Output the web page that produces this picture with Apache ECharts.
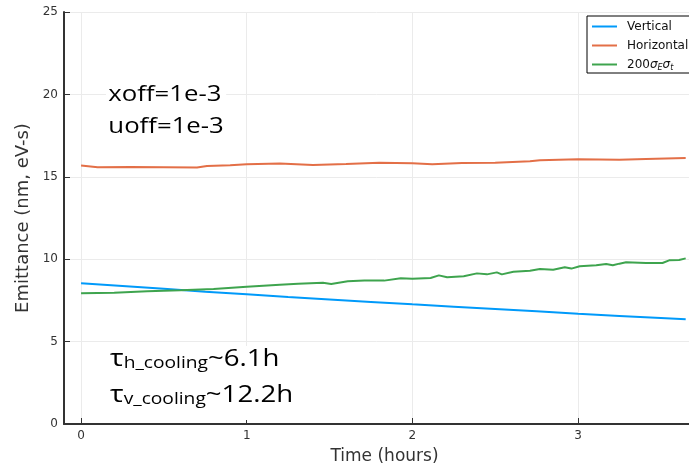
<!DOCTYPE html>
<html>
<head>
<meta charset="utf-8">
<script src="https://cdn.jsdelivr.net/npm/echarts@6/dist/echarts.min.js"></script>
<style>
  html, body { margin: 0; padding: 0; background: #fff; }
  #chart { width: 689px; height: 466px; }
</style>
</head>
<body>
<div id="chart"></div>
<script>
// Emittance evolution over time (hours)
const vertTime = [0, 0.25, 0.5, 0.75, 1.0, 1.25, 1.5, 1.75, 2.0, 2.25, 2.5, 2.75, 3.0, 3.25, 3.5, 3.65];
const vertValues = [8.54, 8.37, 8.20, 8.03, 7.87, 7.71, 7.56, 7.41, 7.26, 7.12, 6.98, 6.84, 6.69, 6.56, 6.43, 6.35];

const horzTime = [0, 0.1, 0.3, 0.5, 0.7, 0.76, 0.9, 1.0, 1.2, 1.4, 1.6, 1.8, 2.0, 2.12, 2.3, 2.5, 2.71, 2.77, 3.0, 3.25, 3.41, 3.65];
const horzValues = [15.68, 15.58, 15.60, 15.58, 15.56, 15.66, 15.70, 15.76, 15.80, 15.72, 15.78, 15.86, 15.82, 15.76, 15.84, 15.86, 15.94, 16.00, 16.06, 16.04, 16.08, 16.14];

const longTime = [0, 0.2, 0.4, 0.6, 0.8, 1.0, 1.2, 1.31, 1.46, 1.51, 1.61, 1.71, 1.83, 1.93, 2.0, 2.11, 2.16, 2.21, 2.31, 2.39, 2.45, 2.51, 2.54, 2.61, 2.71, 2.77, 2.85, 2.92, 2.96, 3.01, 3.11, 3.17, 3.21, 3.25, 3.29, 3.41, 3.51, 3.55, 3.61, 3.65];
const longValues = [7.93, 7.97, 8.05, 8.11, 8.19, 8.33, 8.45, 8.51, 8.57, 8.50, 8.66, 8.70, 8.70, 8.84, 8.82, 8.86, 9.02, 8.90, 8.96, 9.14, 9.08, 9.20, 9.08, 9.24, 9.30, 9.40, 9.36, 9.51, 9.43, 9.57, 9.63, 9.71, 9.63, 9.73, 9.81, 9.77, 9.77, 9.93, 9.95, 10.05];

const xTicks = [0, 1, 2, 3];
const yTicks = [0, 5, 10, 15, 20, 25];

const seriesNames = ['Vertical', 'Horizontal', '200σEσt'];
const seriesColors = ['#009AFA', '#E36F47', '#3EA44E'];

const pairs = (xs, ys) => xs.map((x, i) => [x, ys[i]]);

const chart = echarts.init(document.getElementById('chart'), null, { renderer: 'canvas' });

const tickFont = { fontFamily: 'DejaVu Sans', fontSize: 12, color: '#333' };
const gridLine = { show: true, lineStyle: { color: '#ebebeb', width: 1 } };

chart.setOption({
  animation: false,
  backgroundColor: '#fff',
  grid: { left: 64, top: 12, right: 0, bottom: 42, containLabel: false, outerBoundsMode: 'none' },
  xAxis: {
    type: 'value',
    min: -0.103,
    max: 3.67,
    name: 'Time (hours)',
    nameLocation: 'middle',
    nameGap: 24,
    nameTextStyle: { fontFamily: 'DejaVu Sans', fontSize: 17, color: '#333', padding: [0, 0, 0, 16] },
    axisLine: { show: true, onZero: false, lineStyle: { color: '#333', width: 2 } },
    axisTick: { show: true, inside: true, length: 6, customValues: xTicks, lineStyle: { color: '#333', width: 1 } },
    axisLabel: { customValues: xTicks, margin: 6, ...tickFont },
    splitLine: gridLine
  },
  yAxis: {
    type: 'value',
    min: 0,
    max: 25,
    interval: 5,
    name: 'Emittance (nm, eV-s)',
    nameLocation: 'middle',
    nameGap: 23,
    nameTextStyle: { fontFamily: 'DejaVu Sans', fontSize: 18, color: '#333' },
    axisLine: { show: true, onZero: false, lineStyle: { color: '#333', width: 2 } },
    axisTick: { show: true, inside: true, length: 6, lineStyle: { color: '#333', width: 1 } },
    axisLabel: { margin: 6, formatter: v => (yTicks.includes(v) ? String(v) : ''), ...tickFont },
    splitLine: gridLine
  },
  legend: {
    orient: 'vertical',
    left: 587,
    top: 16,
    backgroundColor: '#fff',
    borderColor: '#000',
    borderWidth: 1,
    borderRadius: 0,
    padding: [3, 8, 1, 5],
    itemGap: 4,
    itemWidth: 25,
    itemHeight: 2,
    icon: 'rect',
    data: seriesNames,
    textStyle: {
      fontFamily: 'DejaVu Sans', fontSize: 12, color: '#111', lineHeight: 15, padding: [0, 0, 0, 5],
      rich: {
        g: { fontFamily: 'DejaVu Sans', fontSize: 12, fontStyle: 'italic', color: '#111' },
        s: { fontFamily: 'DejaVu Sans', fontSize: 8, fontStyle: 'italic', color: '#111', verticalAlign: 'bottom', padding: [5, 0, 0, 0] }
      }
    },
    formatter: name => name === '200σEσt' ? '200{g|σ}{s|E}{g|σ}{s|t}' : name
  },
  series: [
    { name: seriesNames[0], type: 'line', data: pairs(vertTime, vertValues), showSymbol: false, lineStyle: { width: 2, color: seriesColors[0] }, itemStyle: { color: seriesColors[0] } },
    { name: seriesNames[1], type: 'line', data: pairs(horzTime, horzValues), showSymbol: false, lineStyle: { width: 2, color: seriesColors[1] }, itemStyle: { color: seriesColors[1] } },
    { name: seriesNames[2], type: 'line', data: pairs(longTime, longValues), showSymbol: false, lineStyle: { width: 2, color: seriesColors[2] }, itemStyle: { color: seriesColors[2] } }
  ],
  graphic: [
    {
      type: 'text', left: 106, top: 79, scaleX: 1.17, z: 100,
      style: {
        text: 'xoff=1e-3\nuoff=1e-3', fontFamily: 'Open Sans', fontSize: 22, lineHeight: 32, fill: '#000',
        backgroundColor: '#fff', padding: [0, 2, 0, 2]
      }
    },
    // white panel behind the cooling-time note
    {
      type: 'rect', left: 110, top: 346, z: 99, silent: true,
      shape: { width: 192, height: 74 },
      style: { fill: '#fff' }
    },
    {
      type: 'text', left: 110, top: 347, scaleX: 1.2, z: 100,
      style: {
        text: '{t|τ}{s|h_cooling}{m|~6.1h}\n{t|τ}{s|v_cooling}{m|~12.2h}',
        fontFamily: 'Open Sans', fill: '#000', padding: [0, 2, 4, 2],
        rich: {
          t: { fontFamily: 'Open Sans', fontSize: 24, lineHeight: 36, verticalAlign: 'bottom' },
          s: { fontFamily: 'Open Sans', fontSize: 16, lineHeight: 36, verticalAlign: 'bottom' },
          m: { fontFamily: 'Open Sans', fontSize: 23, lineHeight: 36, verticalAlign: 'bottom' }
        }
      }
    }
  ]
});
</script>
</body>
</html>
